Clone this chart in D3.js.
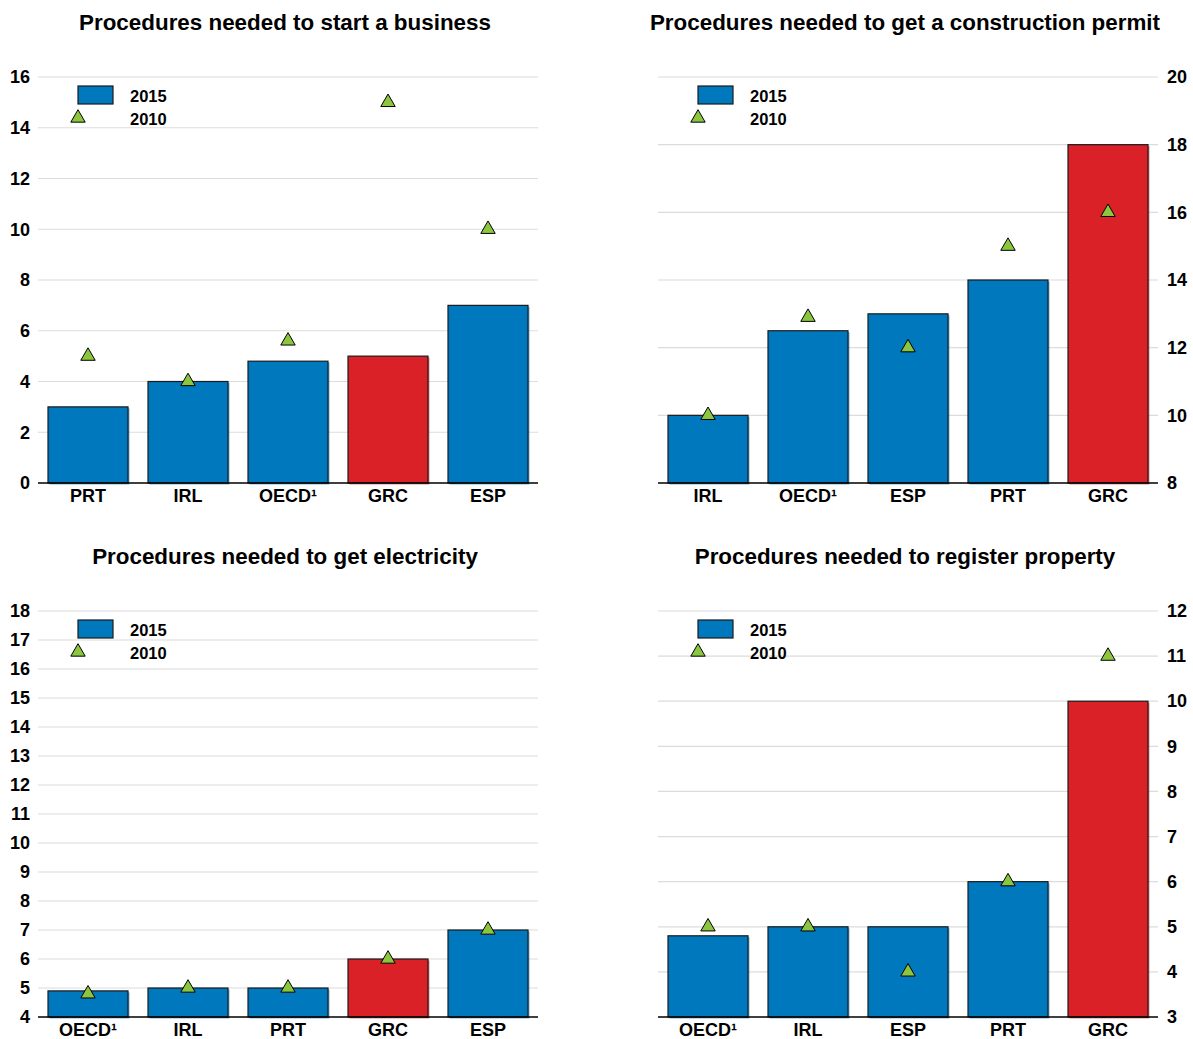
<!DOCTYPE html>
<html><head><meta charset="utf-8">
<script src="https://cdn.jsdelivr.net/npm/d3@7"></script>
<style>
body{margin:0;background:#fff;}
svg{display:block;font-family:"Liberation Sans",Arial,sans-serif;}
</style></head>
<body><svg id="c" width="1193" height="1039"></svg>
<script>
const titles = ["Procedures needed to start a business","Procedures needed to get a construction permit","Procedures needed to get electricity","Procedures needed to register property"];
const cats1 = ["PRT","IRL","OECD¹","GRC","ESP"];
const v2015_1 = [3,4,4.8,5,7];
const v2010_1 = [5,4,5.6,15,10];
const cats2 = ["IRL","OECD¹","ESP","PRT","GRC"];
const v2015_2 = [10,12.5,13,14,18];
const v2010_2 = [10,12.9,12,15,16];
const cats3 = ["OECD¹","IRL","PRT","GRC","ESP"];
const v2015_3 = [4.9,5,5,6,7];
const v2010_3 = [4.8,5,5,6,7];
const cats4 = ["OECD¹","IRL","ESP","PRT","GRC"];
const v2015_4 = [4.8,5,5,6,10];
const v2010_4 = [5,5,4,6,11];
const ticks1 = [0,2,4,6,8,10,12,14,16];
const ticks2 = [8,10,12,14,16,18,20];
const ticks3 = [4,5,6,7,8,9,10,11,12,13,14,15,16,17,18];
const ticks4 = [3,4,5,6,7,8,9,10,11,12];
const legendLabels = ["2015","2010"];
const highlight = "GRC";

const BLUE="#0078be", RED="#da2128", GREEN="#8cc63f", GRID="#dcdcdc";
const svg=d3.select("#c");

const panels=[
 {title:titles[0],cats:cats1,a:v2015_1,b:v2010_1,ticks:ticks1,x0:38,x1:538,yb:483,yt:77,side:"left",tx:285,ty:30},
 {title:titles[1],cats:cats2,a:v2015_2,b:v2010_2,ticks:ticks2,x0:658,x1:1158,yb:483,yt:77,side:"right",tx:905,ty:30},
 {title:titles[2],cats:cats3,a:v2015_3,b:v2010_3,ticks:ticks3,x0:38,x1:538,yb:1017,yt:611,side:"left",tx:285,ty:564},
 {title:titles[3],cats:cats4,a:v2015_4,b:v2010_4,ticks:ticks4,x0:658,x1:1158,yb:1017,yt:611,side:"right",tx:905,ty:564}
];
const tri=d3.symbol().type(d3.symbolTriangle).size(90);

panels.forEach(p=>{
  const g=svg.append("g");
  const x=d3.scaleBand().domain(p.cats).range([p.x0,p.x1]).paddingInner(0.2).paddingOuter(0.1);
  const y=d3.scaleLinear().domain([p.ticks[0],p.ticks[p.ticks.length-1]]).range([p.yb,p.yt]);
  g.append("text").attr("x",p.tx).attr("y",p.ty).attr("text-anchor","middle")
   .attr("font-size",22.4).attr("font-weight","bold").text(p.title);
  // grid
  g.selectAll(".grid").data(p.ticks.slice(1)).enter().append("line")
   .attr("x1",p.x0).attr("x2",p.x1).attr("y1",d=>y(d)).attr("y2",d=>y(d))
   .attr("stroke",GRID).attr("stroke-width",1.2);
  // axis
  const ax = p.side==="left"? d3.axisLeft(y).tickValues(p.ticks).tickSize(0).tickPadding(8)
                            : d3.axisRight(y).tickValues(p.ticks).tickSize(0).tickPadding(9);
  const axg=g.append("g").attr("transform",`translate(${p.side==="left"?p.x0:p.x1},0)`).call(ax);
  axg.select(".domain").remove();
  axg.selectAll("text").attr("font-size",18).attr("font-weight","bold").attr("fill","#000")
     .attr("font-family","Liberation Sans, Arial, sans-serif");
  // bars shadow
  const data=p.cats.map((c,i)=>({c,a:p.a[i],b:p.b[i]}));
  g.selectAll(".sh").data(data).enter().append("rect")
   .attr("x",d=>x(d.c)+1.5).attr("y",d=>y(d.a)+1.5).attr("width",x.bandwidth())
   .attr("height",d=>p.yb-y(d.a)).attr("fill",d=>d.c===highlight?RED:BLUE).attr("opacity",0.55);
  g.selectAll(".bar").data(data).enter().append("rect")
   .attr("x",d=>x(d.c)).attr("y",d=>y(d.a)).attr("width",x.bandwidth())
   .attr("height",d=>p.yb-y(d.a)).attr("fill",d=>d.c===highlight?RED:BLUE)
   .attr("stroke","#1a1a1a").attr("stroke-width",1.2);
  // baseline
  g.append("line").attr("x1",p.x0).attr("x2",p.x1).attr("y1",p.yb).attr("y2",p.yb)
   .attr("stroke","#000").attr("stroke-width",1.3);
  // category labels
  g.selectAll(".cl").data(p.cats).enter().append("text")
   .attr("x",d=>x(d)+x.bandwidth()/2).attr("y",p.yb+19).attr("text-anchor","middle")
   .attr("font-size",18).attr("font-weight","bold").text(d=>d);
  // triangles
  g.selectAll(".tr").data(data).enter().append("path")
   .attr("d",tri).attr("transform",d=>`translate(${x(d.c)+x.bandwidth()/2},${y(d.b)})`)
   .attr("fill",GREEN).attr("stroke","#000").attr("stroke-width",1);
  // legend
  const lx=p.x0+40, ly=p.yt+9;
  g.append("rect").attr("x",lx).attr("y",ly).attr("width",35).attr("height",18)
   .attr("fill",BLUE).attr("stroke","#1a1a1a").attr("stroke-width",1.2);
  g.append("text").attr("x",lx+52).attr("y",ly+16).attr("font-size",16.5).attr("font-weight","bold").text(legendLabels[0]);
  g.append("path").attr("d",tri).attr("transform",`translate(${lx},${ly+32})`)
   .attr("fill",GREEN).attr("stroke","#000").attr("stroke-width",1);
  g.append("text").attr("x",lx+52).attr("y",ly+39).attr("font-size",16.5).attr("font-weight","bold").text(legendLabels[1]);
});
</script></body></html>
